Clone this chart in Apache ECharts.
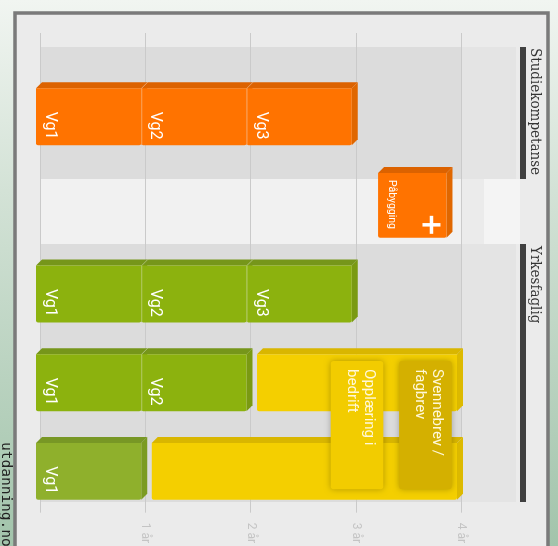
<!DOCTYPE html>
<html><head><meta charset="utf-8">
<script src="https://cdn.jsdelivr.net/npm/echarts@6/dist/echarts.min.js"></script>
<style>html,body{margin:0;padding:0;background:#fff}#c{width:558px;height:546px}</style>
</head><body><div id="c"></div>
<script>
// ---- data ----
const rows = ['Studiekompetanse', 'Påbygging', 'Yrkesfaglig Vg1–Vg3', 'Yrkesfaglig Vg1–Vg2 + lære', 'Yrkesfaglig Vg1 + lære'];
const segLabels = ['Vg1', 'Vg2', 'Vg3', 'Påbygging', 'Vg1', 'Vg2', 'Vg3', 'Vg1', 'Vg2', '', 'Vg1', ''];
const segRows   = [0, 0, 0, 1, 2, 2, 2, 3, 3, 3, 4, 4];
const segStart  = [0, 1, 2, 3.25, 0, 1, 2, 0, 1, 2.1, 0, 1.1];
const segEnd    = [1, 2, 3, 3.9, 1, 2, 3, 1, 2, 4, 1, 4];
const segType   = ['studie', 'studie', 'studie', 'pabygging', 'yrke', 'yrke', 'yrke', 'yrke', 'yrke', 'bedrift', 'yrkeVg1', 'bedrift'];

const phaseLabels  = ['Opplæring i\nbedrift', 'Svennebrev /\nfagbrev'];
const phaseRowFrom = [3, 3];
const phaseRowTo   = [4, 4];
const phaseStart   = [2.8, 3.45];
const phaseEnd     = [3.3, 3.95];
const phaseType    = ['opplaering', 'fagbrev'];

const yearTicks = [0, 1, 2, 3, 4];
const yearUnit = 'år';
const groupNames = ['Studiekompetanse', 'Yrkesfaglig'];
const watermark = 'utdanning.no';

// ---- styles ----
const palette = {
  studie:    {front: '#ff7300', top: '#dc6200', side: '#e06700'},
  pabygging: {front: '#ff7300', top: '#dc6200', side: '#e06700'},
  yrke:      {front: '#8cb20e', top: '#76961a', side: '#7a9a12'},
  yrkeVg1:   {front: '#8fb02c', top: '#789725', side: '#7b9b22'},
  bedrift:   {front: '#f4cf00', top: '#d9b600', side: '#ddba00'}
};
const phasePalette = {opplaering: '#f2cc00', fagbrev: '#d4b000'};

const chart = echarts.init(document.getElementById('c'), null, {renderer: 'canvas'});

function renderSeg(params, api) {
  const i = params.dataIndex;
  const row = api.value(0), s = api.value(1), e = api.value(2);
  const step = api.size([0, 1])[1];
  const type = segType[i];
  const col = palette[type];
  const H = step * (type === 'pabygging' ? 0.8 : 0.71);
  const p0 = api.coord([s, row]);
  const p1 = api.coord([e, row]);
  const D = 6, SH = 4;
  const top = p0[1] - H / 2, bot = p0[1] + H / 2;
  const fx0 = p0[0] - SH, fx1 = p1[0] - SH;
  const children = [
    {type: 'polygon', shape: {points: [[fx1, top + D], [fx1 + D, top], [fx1 + D, bot - D], [fx1, bot]]}, style: {fill: col.side}},
    {type: 'polygon', shape: {points: [[fx0, top + D], [fx0 + D, top], [fx1 + D, top], [fx1, top + D]]}, style: {fill: col.top}},
    {type: 'rect', shape: {x: fx0, y: top + D, width: fx1 - fx0, height: bot - top - D, r: [0, 0, 2, 2]}, style: {fill: col.front}}
  ];
  let joined = false;
  for (let j = 0; j < segRows.length; j++) {
    if (j !== i && segRows[j] === segRows[i] && segEnd[j] === segStart[i] && segType[j] === segType[i]) joined = true;
  }
  if (joined) {
    children.push({type: 'polyline', shape: {points: [[fx0 + 0.5, bot], [fx0 + 0.5, top + D], [fx0 + D + 0.5, top]]},
      style: {stroke: 'rgba(255,255,255,0.35)', lineWidth: 1, fill: null}});
  }
  const lab = segLabels[i];
  if (type === 'pabygging') {
    children.push({type: 'text', x: fx0 + 14, y: top + 13, rotation: -Math.PI / 2,
      style: {text: lab, fill: '#fff', fontSize: 10.5, fontFamily: 'Roboto', align: 'left', verticalAlign: 'middle'}});
    const cx = fx1 - 15, cy = bot - 13;
    children.push({type: 'rect', shape: {x: cx - 9, y: cy - 1.75, width: 18, height: 3.5}, style: {fill: '#fff'}});
    children.push({type: 'rect', shape: {x: cx - 1.75, y: cy - 9, width: 3.5, height: 18}, style: {fill: '#fff'}});
  } else if (lab) {
    children.push({type: 'text', x: fx0 + 14, y: p0[1] - 2, rotation: -Math.PI / 2,
      style: {text: lab, fill: '#fff', fontSize: 16, fontFamily: 'Roboto', align: 'left', verticalAlign: 'middle'}});
  }
  return {type: 'group', children};
}

function renderPhase(params, api) {
  const i = params.dataIndex;
  const step = api.size([0, 1])[1];
  const p0 = api.coord([api.value(2), api.value(0)]);
  const p1 = api.coord([api.value(3), api.value(1)]);
  const top = p0[1] - 0.21 * step, bot = p1[1] + 0.235 * step;
  const x0 = p0[0] - 4, x1 = p1[0] - 4;
  return {type: 'group', children: [
    {type: 'rect', shape: {x: x0, y: top, width: x1 - x0, height: bot - top, r: 3},
      style: {fill: phasePalette[phaseType[i]], shadowBlur: 6, shadowColor: 'rgba(0,0,0,0.28)'}},
    {type: 'text', x: x1 - 6, y: top + 8, rotation: -Math.PI / 2,
      style: {text: phaseLabels[i], fill: '#fff8d8', fontSize: 15, lineHeight: 17, fontFamily: 'Roboto',
        align: 'left', verticalAlign: 'top'}}
  ]};
}

const segData = segRows.map((r, i) => [r, segStart[i], segEnd[i]]);
const phaseData = phaseRowFrom.map((r, i) => [r, phaseRowTo[i], phaseStart[i], phaseEnd[i]]);

const serifFont = '"DejaVu Serif Condensed", "DejaVu Serif", serif';

const option = {
  animation: false,
  backgroundColor: 'transparent',
  grid: {left: 40, right: 97, top: 33, bottom: 29},
  xAxis: {
    type: 'value', min: yearTicks[0], max: yearTicks[yearTicks.length - 1], interval: 1, position: 'bottom',
    axisLine: {show: false}, axisTick: {show: false},
    splitLine: {show: true, lineStyle: {color: '#cacaca', width: 1}},
    axisLabel: {rotate: -90, margin: 10, color: '#c4c4c4', fontSize: 12, fontFamily: 'Roboto',
      formatter: v => v === 0 ? '' : v + ' ' + yearUnit}
  },
  yAxis: {type: 'value', inverse: true, min: -0.91, max: 4.5, show: false, splitLine: {show: false}},
  graphic: [
    {type: 'rect', z: -100, shape: {x: 0, y: 0, width: 558, height: 546},
      style: {fill: new echarts.graphic.LinearGradient(0, 0, 0, 1, [{offset: 0, color: '#f1f5f1'}, {offset: 0.35, color: '#d3e2d6'}, {offset: 1, color: '#a2c4ab'}])}},
    {type: 'rect', z: -99, shape: {x: 15, y: 13, width: 533, height: 560}, style: {fill: '#ebebeb', stroke: '#7a7a7a', lineWidth: 3.5}},
    {type: 'rect', z: -98, shape: {x: 40, y: 47, width: 421, height: 132}, style: {fill: '#dcdcdc'}},
    {type: 'rect', z: -98, shape: {x: 461, y: 47, width: 55, height: 132}, style: {fill: '#e4e4e4'}},
    {type: 'rect', z: -98, shape: {x: 40, y: 179, width: 421, height: 65}, style: {fill: '#f1f1f1'}},
    {type: 'rect', z: -98, shape: {x: 484, y: 179, width: 36, height: 65}, style: {fill: '#f4f4f4'}},
    {type: 'rect', z: -98, shape: {x: 40, y: 244, width: 421, height: 258}, style: {fill: '#dcdcdc'}},
    {type: 'rect', z: -98, shape: {x: 461, y: 244, width: 55, height: 258}, style: {fill: '#e4e4e4'}},
    {type: 'rect', z: 50, shape: {x: 520, y: 47, width: 6, height: 132}, style: {fill: '#404040'}},
    {type: 'rect', z: 50, shape: {x: 520, y: 244, width: 6, height: 258}, style: {fill: '#404040'}},
    {type: 'text', z: 50, x: 535, y: 48, rotation: -Math.PI / 2,
      style: {text: groupNames[0], fill: '#333', fontSize: 15, fontFamily: serifFont, align: 'left', verticalAlign: 'middle'}},
    {type: 'text', z: 50, x: 535, y: 246, rotation: -Math.PI / 2,
      style: {text: groupNames[1], fill: '#333', fontSize: 15, fontFamily: serifFont, align: 'left', verticalAlign: 'middle'}},
    {type: 'text', z: 50, x: 6, y: 442, rotation: -Math.PI / 2,
      style: {text: watermark, fill: '#222', fontSize: 14.5, fontFamily: 'DejaVu Sans Mono', align: 'left', verticalAlign: 'middle'}}
  ],
  series: [
    {type: 'custom', name: 'Utdanningsløp', coordinateSystem: 'cartesian2d', renderItem: renderSeg,
      encode: {x: [1, 2], y: 0}, data: segData, z: 5, clip: false},
    {type: 'custom', name: 'Fase', coordinateSystem: 'cartesian2d', renderItem: renderPhase,
      encode: {x: [2, 3], y: [0, 1]}, data: phaseData, z: 6, clip: false}
  ]
};
chart.setOption(option);
</script></body></html>
